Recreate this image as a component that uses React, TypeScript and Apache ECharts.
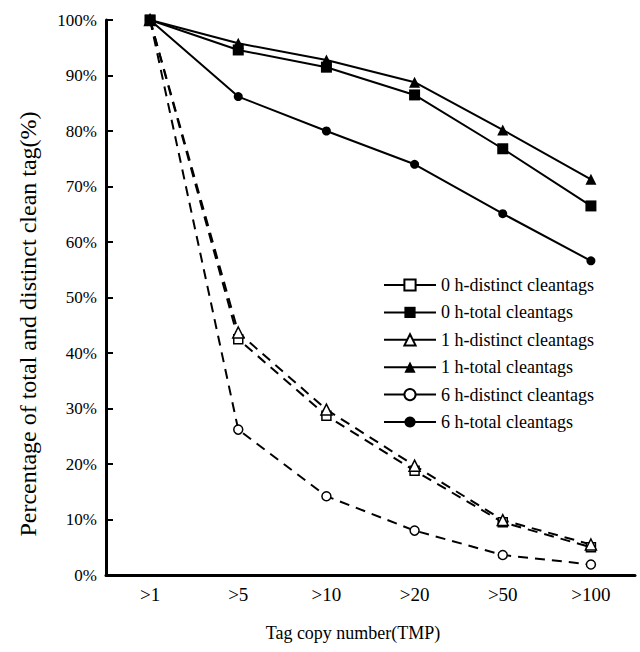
import React, { useEffect, useRef } from "react";
import * as echarts from "echarts";

const categories = [">1", ">5", ">10", ">20", ">50", ">100"];
const yTicks = [0, 10, 20, 30, 40, 50, 60, 70, 80, 90, 100];

const distinct0h = [100, 42.5, 28.7, 18.8, 9.5, 5.0];
const total0h = [100, 94.6, 91.5, 86.5, 76.8, 66.5];
const distinct1h = [100, 43.7, 29.8, 19.7, 9.9, 5.5];
const total1h = [100, 95.8, 92.8, 88.8, 80.2, 71.3];
const distinct6h = [100, 26.2, 14.2, 8.0, 3.6, 1.9];
const total6h = [100, 86.2, 80.0, 74.0, 65.1, 56.6];

const seriesNames = [
  "0 h-distinct cleantags",
  "0 h-total cleantags",
  "1 h-distinct cleantags",
  "1 h-total cleantags",
  "6 h-distinct cleantags",
  "6 h-total cleantags",
];

const FONT = "Liberation Serif";

export default function App() {
  const ref = useRef<HTMLDivElement>(null);
  useEffect(() => {
    if (!ref.current) return;
    const chart = echarts.init(ref.current, undefined, { renderer: "svg" });

    const distinctLine = { color: "#000", width: 2, type: [10, 7] as any };
    const totalLine = { color: "#000", width: 2, type: "solid" as any };
    const openStyle = { color: "#fff", borderColor: "#000", borderWidth: 1.5 };
    const filledStyle = { color: "#000", borderColor: "#000", borderWidth: 0 };

    const mk = (name: string, data: number[], symbol: string, size: number, distinct: boolean) => ({
      name,
      type: "line",
      data,
      symbol,
      symbolSize: size,
      showSymbol: true,
      lineStyle: distinct ? distinctLine : totalLine,
      itemStyle: distinct ? openStyle : filledStyle,
      z: distinct ? 2 : 3,
    });

    chart.setOption({
      animation: false,
      backgroundColor: "#fff",
      textStyle: { fontFamily: FONT, color: "#000" },
      grid: { left: 106, right: 5, top: 20, bottom: 77, containLabel: false },
      legend: {
        orient: "vertical",
        left: 383,
        top: 276,
        padding: 0,
        itemWidth: 52,
        itemHeight: 14,
        itemGap: 9.4,
        data: seriesNames,
        lineStyle: { type: "solid", width: 2, color: "#000" },
        textStyle: { fontFamily: FONT, fontSize: 18, color: "#000", lineHeight: 18 },
      },
      xAxis: {
        type: "category",
        data: categories,
        boundaryGap: true,
        axisLine: { lineStyle: { color: "#000", width: 3 } },
        axisTick: { inside: true, length: 7, lineStyle: { color: "#000", width: 2 } },
        axisLabel: { fontFamily: FONT, fontSize: 19, color: "#000", margin: 10 },
        splitLine: { show: false },
      },
      yAxis: {
        type: "value",
        min: yTicks[0],
        max: yTicks[yTicks.length - 1],
        interval: 10,
        axisLine: { show: true, lineStyle: { color: "#000", width: 3 } },
        axisTick: { show: true, inside: true, length: 7, lineStyle: { color: "#000", width: 2 } },
        axisLabel: { fontFamily: FONT, fontSize: 17, color: "#000", margin: 9, formatter: "{value}%" },
        splitLine: { show: false },
      },
      graphic: [
        {
          type: "text",
          x: 28,
          y: 324,
          rotation: Math.PI / 2,
          style: {
            text: "Percentage of total and distinct clean tag(%)",
            fontFamily: FONT,
            fontSize: 24,
            fill: "#000",
            align: "center",
            verticalAlign: "middle",
          },
        },
        {
          type: "text",
          x: 353,
          y: 633,
          style: {
            text: "Tag copy number(TMP)",
            fontFamily: FONT,
            fontSize: 18,
            fill: "#000",
            align: "center",
            verticalAlign: "middle",
          },
        },
      ],
      series: [
        mk(seriesNames[0], distinct0h, "rect", 9, true),
        mk(seriesNames[1], total0h, "rect", 11, false),
        mk(seriesNames[2], distinct1h, "triangle", 11, true),
        mk(seriesNames[3], total1h, "triangle", 11, false),
        mk(seriesNames[4], distinct6h, "circle", 9, true),
        mk(seriesNames[5], total6h, "circle", 9, false),
      ],
    });
    return () => chart.dispose();
  }, []);
  return (
    <div
      ref={ref}
      style={{ position: "fixed", left: 0, top: 0, width: 640, height: 652, background: "#fff" }}
    />
  );
}
